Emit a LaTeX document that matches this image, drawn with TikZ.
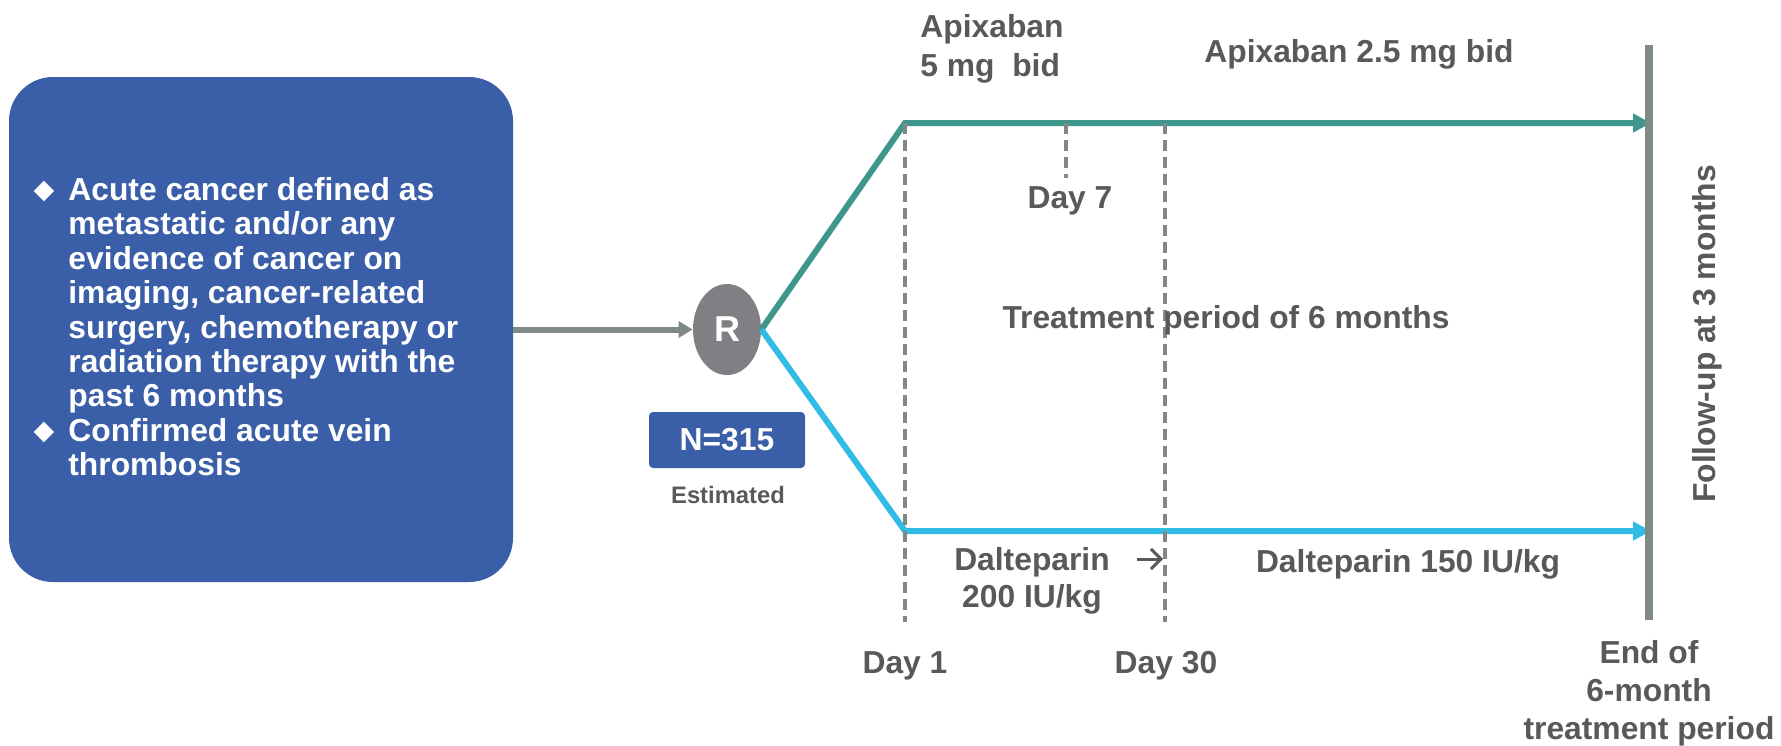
\documentclass[tikz,border=0pt]{standalone}
\usepackage{fontspec}
\setmainfont{Liberation Sans}
\newfontfamily\symbolfont{DejaVu Sans}
\usetikzlibrary{shapes.geometric,arrows.meta}
\definecolor{boxblue}{RGB}{58,95,168}
\definecolor{apiteal}{RGB}{62,150,140}
\definecolor{daltcyan}{RGB}{48,188,228}
\definecolor{randgray}{RGB}{128,128,132}
\definecolor{linegray}{RGB}{127,138,132}
\definecolor{textgray}{RGB}{89,89,89}
\tikzset{
  lbl/.style={font=\bfseries\fontsize{15.9}{19}\selectfont,text=textgray,inner sep=0pt},
  critbox/.style={fill=boxblue,rounded corners=22pt,minimum width=252pt,minimum height=252.5pt,inner sep=0pt},
  crittext/.style={font=\bfseries\fontsize{15.9}{17.2}\selectfont,text=white,align=left,inner sep=0pt},
  bulletmark/.style={font=\symbolfont\fontsize{13.5}{13.5}\selectfont,text=white,inner sep=0pt},
  armline/.style={line width=3pt,-{Triangle[length=9pt,width=9pt]}},
  daymark/.style={linegray,line width=2pt,dash pattern=on 5.5pt off 3pt}
}
\begin{document}
\begin{tikzpicture}[x=0.5pt,y=-0.5pt]
\useasboundingbox (0,0) rectangle (1781,745);
% inclusion criteria
\node[critbox] (crit) at (261,329.5) {};
\node[bulletmark] (bul1) at (44,191) {◆};
\node[bulletmark] (bul2) at (44,432) {◆};
\node[crittext,anchor=north west] (critlist) at (68,177) {Acute cancer defined as\\metastatic and/or any\\evidence of cancer on\\imaging, cancer-related\\surgery, chemotherapy or\\radiation therapy with the\\past 6 months\\Confirmed acute vein\\thrombosis};
% randomisation
\node[ellipse,fill=randgray,minimum width=34pt,minimum height=45.5pt,inner sep=0pt,text=white,font=\bfseries\fontsize{18}{18}\selectfont] (rand) at (727,329.5) {R};
\draw[linegray,line width=3pt,-{Triangle[length=7pt,width=8pt]}] (crit) -- (rand);
\node[fill=boxblue,rounded corners=2pt,minimum width=78pt,minimum height=28pt,inner sep=0pt,text=white,font=\bfseries\fontsize{15.9}{15.9}\selectfont] (nbox) at (727,440) {N=315};
\node[lbl,font=\bfseries\fontsize{11.9}{11.9}\selectfont,anchor=base] (est) at (728,503) {Estimated};
% the two arms
\coordinate (apibend) at (905,123);
\coordinate (apiend) at (1651,123);
\coordinate (daltbend) at (905,531);
\coordinate (daltend) at (1651,531);
\draw[armline,apiteal] (rand.east) -- (apibend) -- (apiend);
\draw[armline,daltcyan] (rand.east) -- (daltbend) -- (daltend);
% end of treatment
\draw[linegray,line width=4pt] (1649,45) -- (1649,620);
% day markers
\draw[daymark] (905,123) -- (905,622);
\draw[daymark] (1165,123) -- (1165,622);
\draw[daymark] (1066,123) -- (1066,178);
% labels
\node[lbl,align=left,anchor=north west,font=\bfseries\fontsize{15.9}{19.5}\selectfont] (api5) at (920,14) {Apixaban\\5 mg\ \ bid};
\node[lbl,anchor=base] (api25) at (1359,62) {Apixaban 2.5 mg bid};
\node[lbl,anchor=base] (day7) at (1070,208) {Day 7};
\node[lbl,anchor=base] (period) at (1226,328) {Treatment period of 6 months};
\node[lbl,align=center,anchor=north,font=\bfseries\fontsize{15.9}{18.5}\selectfont] (dalt200) at (1032,547) {Dalteparin\\200 IU/kg};
\draw[textgray,line width=1.5pt,-{Straight Barb[length=5pt,width=10pt]}] (1137,559) -- (1163,559);
\node[lbl,anchor=base] (dalt150) at (1408,572) {Dalteparin 150 IU/kg};
\node[lbl,anchor=base] (day1) at (905,673) {Day 1};
\node[lbl,anchor=base] (day30) at (1166,673) {Day 30};
\node[lbl,anchor=base,rotate=90] (follow) at (1715,334) {Follow-up at 3 months};
\node[lbl,align=center,anchor=north] (endtx) at (1649,640) {End of\\6-month\\treatment period};
\end{tikzpicture}
\end{document}
